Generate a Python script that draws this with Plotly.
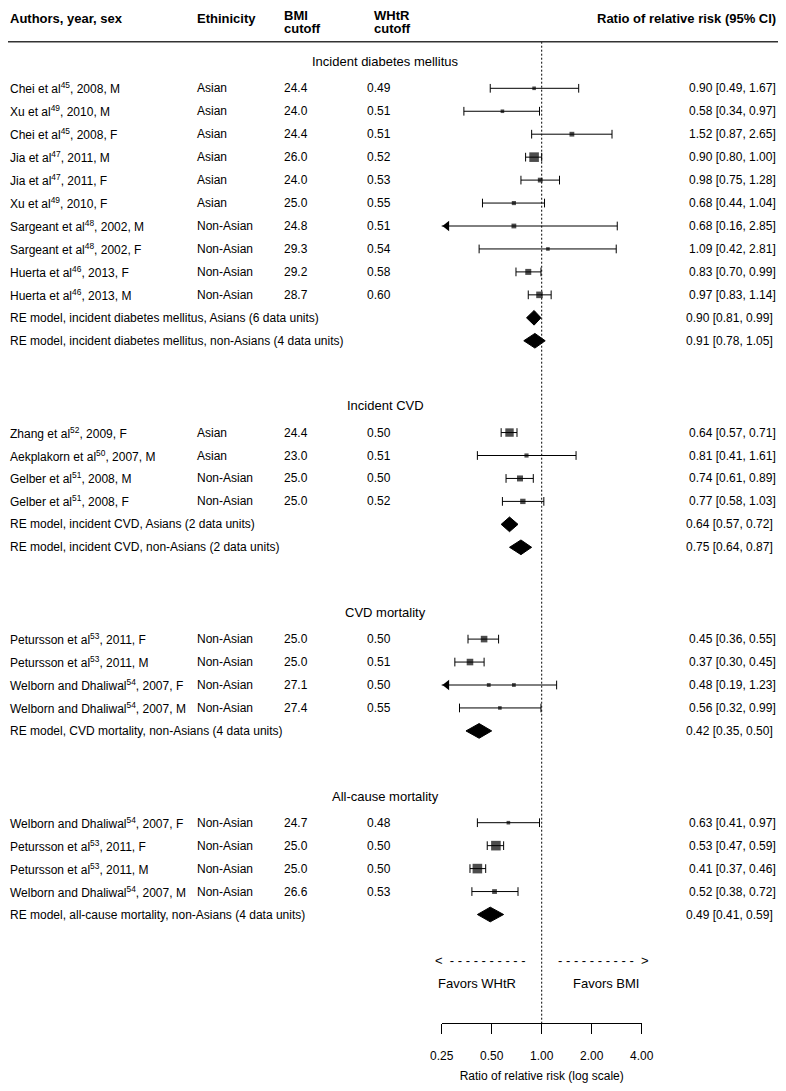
import math
import plotly.graph_objects as go

# The page body keeps an 8px default margin, so the figure is sized to fit
# inside the 786x1091 window; all placements below are given in window pixels.
WIN_W, WIN_H = 786, 1091
OFF = 8
W, H = WIN_W - 2 * OFF, WIN_H - 2 * OFF
FONT = "Liberation Sans, Arial, Helvetica, sans-serif"

# ------------------------------------------------------------------ data
group_titles = ["Incident diabetes mellitus", "Incident CVD", "CVD mortality", "All-cause mortality"]

dm_labels = ["Chei et al<sup>45</sup>, 2008, M", "Xu et al<sup>49</sup>, 2010, M",
             "Chei et al<sup>45</sup>, 2008, F", "Jia et al<sup>47</sup>, 2011, M",
             "Jia et al<sup>47</sup>, 2011, F", "Xu et al<sup>49</sup>, 2010, F",
             "Sargeant et al<sup>48</sup>, 2002, M", "Sargeant et al<sup>48</sup>, 2002, F",
             "Huerta et al<sup>46</sup>, 2013, F", "Huerta et al<sup>46</sup>, 2013, M"]
dm_eth = ["Asian"] * 6 + ["Non-Asian"] * 4
dm_bmi = ["24.4", "24.0", "24.4", "26.0", "24.0", "25.0", "24.8", "29.3", "29.2", "28.7"]
dm_whtr = ["0.49", "0.51", "0.51", "0.52", "0.53", "0.55", "0.51", "0.54", "0.58", "0.60"]
dm_est = [0.90, 0.58, 1.52, 0.90, 0.98, 0.68, 0.68, 1.09, 0.83, 0.97]
dm_lo = [0.49, 0.34, 0.87, 0.80, 0.75, 0.44, 0.16, 0.42, 0.70, 0.83]
dm_hi = [1.67, 0.97, 2.65, 1.00, 1.28, 1.04, 2.85, 2.81, 0.99, 1.14]
dm_w = [9, 9, 16, 64, 16, 12, 16, 9, 25, 30]
dm_re_labels = ["RE model, incident diabetes mellitus, Asians (6 data units)",
                "RE model, incident diabetes mellitus, non-Asians (4 data units)"]
dm_re_est = [0.90, 0.91]
dm_re_lo = [0.81, 0.78]
dm_re_hi = [0.99, 1.05]

cvd_labels = ["Zhang et al<sup>52</sup>, 2009, F", "Aekplakorn et al<sup>50</sup>, 2007, M",
              "Gelber et al<sup>51</sup>, 2008, M", "Gelber et al<sup>51</sup>, 2008, F"]
cvd_eth = ["Asian", "Asian", "Non-Asian", "Non-Asian"]
cvd_bmi = ["24.4", "23.0", "25.0", "25.0"]
cvd_whtr = ["0.50", "0.51", "0.50", "0.52"]
cvd_est = [0.64, 0.81, 0.74, 0.77]
cvd_lo = [0.57, 0.41, 0.61, 0.58]
cvd_hi = [0.71, 1.61, 0.89, 1.03]
cvd_w = [49, 12, 25, 20]
cvd_re_labels = ["RE model, incident CVD, Asians (2 data units)",
                 "RE model, incident CVD, non-Asians (2 data units)"]
cvd_re_est = [0.64, 0.75]
cvd_re_lo = [0.57, 0.64]
cvd_re_hi = [0.72, 0.87]

cvdm_labels = ["Petursson et al<sup>53</sup>, 2011, F", "Petursson et al<sup>53</sup>, 2011, M",
               "Welborn and Dhaliwal<sup>54</sup>, 2007, F", "Welborn and Dhaliwal<sup>54</sup>, 2007, M"]
cvdm_eth = ["Non-Asian"] * 4
cvdm_bmi = ["25.0", "25.0", "27.1", "27.4"]
cvdm_whtr = ["0.50", "0.51", "0.50", "0.55"]
cvdm_est = [0.45, 0.37, 0.48, 0.56]
cvdm_lo = [0.36, 0.30, 0.19, 0.32]
cvdm_hi = [0.55, 0.45, 1.23, 0.99]
cvdm_w = [30, 30, 10, 9]
cvdm_re_labels = ["RE model, CVD mortality, non-Asians (4 data units)"]
cvdm_re_est = [0.42]
cvdm_re_lo = [0.35]
cvdm_re_hi = [0.50]
# stray duplicate point visible in the source figure (Welborn F, CVD mortality)
cvdm_extra_idx = [2]
cvdm_extra_est = [0.68]

ac_labels = ["Welborn and Dhaliwal<sup>54</sup>, 2007, F", "Petursson et al<sup>53</sup>, 2011, F",
             "Petursson et al<sup>53</sup>, 2011, M", "Welborn and Dhaliwal<sup>54</sup>, 2007, M"]
ac_eth = ["Non-Asian"] * 4
ac_bmi = ["24.7", "25.0", "25.0", "26.6"]
ac_whtr = ["0.48", "0.50", "0.50", "0.53"]
ac_est = [0.63, 0.53, 0.41, 0.52]
ac_lo = [0.41, 0.47, 0.37, 0.38]
ac_hi = [0.97, 0.59, 0.46, 0.72]
ac_w = [9, 64, 64, 16]
ac_re_labels = ["RE model, all-cause mortality, non-Asians (4 data units)"]
ac_re_est = [0.49]
ac_re_lo = [0.41]
ac_re_hi = [0.59]

tick_vals = [0.25, 0.5, 1.0, 2.0, 4.0]
tick_text = ["0.25", "0.50", "1.00", "2.00", "4.00"]

groups = [
    dict(title=group_titles[0], labels=dm_labels, eth=dm_eth, bmi=dm_bmi, whtr=dm_whtr, est=dm_est,
         lo=dm_lo, hi=dm_hi, w=dm_w, re_labels=dm_re_labels, re_est=dm_re_est, re_lo=dm_re_lo,
         re_hi=dm_re_hi),
    dict(title=group_titles[1], labels=cvd_labels, eth=cvd_eth, bmi=cvd_bmi, whtr=cvd_whtr, est=cvd_est,
         lo=cvd_lo, hi=cvd_hi, w=cvd_w, re_labels=cvd_re_labels, re_est=cvd_re_est, re_lo=cvd_re_lo,
         re_hi=cvd_re_hi),
    dict(title=group_titles[2], labels=cvdm_labels, eth=cvdm_eth, bmi=cvdm_bmi, whtr=cvdm_whtr,
         est=cvdm_est, lo=cvdm_lo, hi=cvdm_hi, w=cvdm_w, re_labels=cvdm_re_labels, re_est=cvdm_re_est,
         re_lo=cvdm_re_lo, re_hi=cvdm_re_hi, extra_idx=cvdm_extra_idx, extra_est=cvdm_extra_est),
    dict(title=group_titles[3], labels=ac_labels, eth=ac_eth, bmi=ac_bmi, whtr=ac_whtr, est=ac_est,
         lo=ac_lo, hi=ac_hi, w=ac_w, re_labels=ac_re_labels, re_est=ac_re_est, re_lo=ac_re_lo,
         re_hi=ac_re_hi),
]

# ------------------------------------------------------------------ geometry (window pixels)
Y0, DY = 88.3, 22.95          # y of first row, pixels per row
X1, PX_PER_DOUBLING = 541.7, 50.0
XCLIP = 0.25
CAP = 0.19
DIAM_H = 0.32
HEAD_OFF = 1.16
GAP = 4
SQ_SCALE = 1.2
RULE_PY = 41.7
AXIS_PY = 1023


def prow(py):
    return (py - Y0) / DY


def xp(px):
    return (px - OFF) / W


def log10_at(px):
    return (px - X1) / PX_PER_DOUBLING * math.log10(2)


# ------------------------------------------------------------------ build
annots = []


def txt(px, y, s, anchor="left", size=12, bold=False):
    annots.append(dict(x=max(xp(px), 0.0) if anchor == "left" else min(xp(px), 1.0), y=y,
                       xref="paper", yref="y", text=("<b>%s</b>" % s) if bold else s,
                       showarrow=False, xanchor=anchor, yanchor="middle",
                       font=dict(size=size, family=FONT, color="black")))


COL_AUTH, COL_ETH, COL_BMI, COL_WHTR, COL_CI = 5, 195, 282, 365, 687

ci_x, ci_y, cap_x, cap_y, arr_x, arr_y = [], [], [], [], [], []
sq_x, sq_y, sq_s = [], [], []
dm_x, dm_y = [], []
ARROW_SIZE = 9
arrow_shift = 2 ** (1.1547 * ARROW_SIZE / 2 / PX_PER_DOUBLING)

row = 0
last_row = 0
for g in groups:
    txt(385, row - HEAD_OFF, g["title"], anchor="center", size=13)
    rows = []
    for i, lab in enumerate(g["labels"]):
        r = row + i
        rows.append(r)
        txt(COL_AUTH, r, lab)
        txt(COL_ETH, r, g["eth"][i])
        txt(COL_BMI, r, g["bmi"][i])
        txt(COL_WHTR, r, g["whtr"][i])
        e, lo, hi = g["est"][i], g["lo"][i], g["hi"][i]
        txt(COL_CI, r, "%.2f [%.2f, %.2f]" % (e, lo, hi))
        left = max(lo, XCLIP)
        ci_x += [left, hi, None]
        ci_y += [r, r, None]
        if lo >= XCLIP:
            cap_x += [lo, lo, None]
            cap_y += [r - CAP, r + CAP, None]
        else:
            arr_x.append(XCLIP * arrow_shift)
            arr_y.append(r)
        cap_x += [hi, hi, None]
        cap_y += [r - CAP, r + CAP, None]
        sq_x.append(e)
        sq_y.append(r)
        sq_s.append(SQ_SCALE * math.sqrt(g["w"][i]))
    for k, ex in zip(g.get("extra_idx", []), g.get("extra_est", [])):
        sq_x.append(ex)
        sq_y.append(rows[k])
        sq_s.append(SQ_SCALE * math.sqrt(g["w"][k]))
    r0 = row + len(g["labels"])
    for j, lab in enumerate(g["re_labels"]):
        rr = r0 + j
        txt(COL_AUTH, rr, lab)
        e, lo, hi = g["re_est"][j], g["re_lo"][j], g["re_hi"][j]
        txt(COL_CI - 3, rr, "%.2f [%.2f, %.2f]" % (e, lo, hi))
        dm_x += [lo, e, hi, e, lo, None]
        dm_y += [rr, rr - DIAM_H, rr, rr + DIAM_H, rr, None]
        last_row = rr
    row = last_row + GAP

# headers
txt(8, prow(18), "Authors, year, sex", bold=True, size=13)
txt(195, prow(18), "Ethinicity", bold=True, size=13)
txt(282, prow(15.5), "BMI", bold=True, size=13)
txt(282, prow(28.5), "cutoff", bold=True, size=13)
txt(372, prow(15.5), "WHtR", bold=True, size=13)
txt(372, prow(28.5), "cutoff", bold=True, size=13)
txt(780, prow(18), "Ratio of relative risk (95% CI)", anchor="right", bold=True, size=13)

# favours
fav_row = last_row + 2
txt(433, fav_row, "< " + " -" * 10, size=13)
txt(556, fav_row, "- " * 10 + " >", size=13)
txt(477, fav_row + 1, "Favors WHtR", anchor="center", size=13)
txt(606, fav_row + 1, "Favors BMI", anchor="center", size=13)

fig = go.Figure()
fig.add_trace(go.Scatter(x=[1, 1], y=[prow(RULE_PY), prow(AXIS_PY)], mode="lines",
                         line=dict(color="black", width=1, dash="2px,2px"), hoverinfo="skip"))
fig.add_trace(go.Scatter(x=ci_x, y=ci_y, mode="lines", line=dict(color="black", width=1), hoverinfo="skip"))
fig.add_trace(go.Scatter(x=cap_x, y=cap_y, mode="lines", line=dict(color="black", width=1), hoverinfo="skip"))
fig.add_trace(go.Scatter(x=arr_x, y=arr_y, mode="markers",
                         marker=dict(symbol="triangle-left", size=ARROW_SIZE, color="black", line=dict(width=0)),
                         hoverinfo="skip"))
fig.add_trace(go.Scatter(x=sq_x, y=sq_y, mode="markers",
                         marker=dict(symbol="square", size=sq_s, color="black", line=dict(width=0)),
                         hoverinfo="skip"))
fig.add_trace(go.Scatter(x=dm_x, y=dm_y, mode="lines", fill="toself", fillcolor="black",
                         line=dict(color="black", width=1), hoverinfo="skip"))
# invisible trace that creates the bottom axis subplot
fig.add_trace(go.Scatter(x=[1], y=[None], xaxis="x2", yaxis="y", mode="markers",
                         marker=dict(opacity=0), hoverinfo="skip"))

fig.update_layout(
    width=W, height=H, margin=dict(l=0, r=0, t=0, b=0, pad=0, autoexpand=False), autosize=False,
    paper_bgcolor="white", plot_bgcolor="rgba(0,0,0,0)", showlegend=False,
    xaxis=dict(type="log", range=[log10_at(OFF), log10_at(OFF + W)], visible=False, domain=[0, 1],
               fixedrange=True, automargin=False),
    yaxis=dict(range=[prow(OFF + H), prow(OFF)], visible=False, domain=[0, 1], fixedrange=True,
               automargin=False),
    xaxis2=dict(type="log", domain=[xp(X1 - 2 * PX_PER_DOUBLING), xp(X1 + 2 * PX_PER_DOUBLING)],
                range=[math.log10(tick_vals[0]) - 1e-4, math.log10(tick_vals[-1]) + 1e-4],
                anchor="free", position=1 - (AXIS_PY - OFF) / H, fixedrange=True, automargin=False,
                tickmode="array", tickvals=tick_vals, ticktext=tick_text,
                ticks="outside", ticklen=10, tickwidth=1, tickcolor="black",
                showline=True, linecolor="black", linewidth=1, showgrid=False, zeroline=False,
                tickfont=dict(size=12, family=FONT, color="black"), ticklabelstandoff=12,
                title=dict(text="Ratio of relative risk (log scale)", standoff=10,
                           font=dict(size=12, family=FONT, color="black"))),
    annotations=annots,
    shapes=[dict(type="line", xref="paper", yref="y", x0=0, x1=1, y0=prow(RULE_PY), y1=prow(RULE_PY),
                 line=dict(color="#333333", width=1.5))],
)

fig.write_html("out.html")
